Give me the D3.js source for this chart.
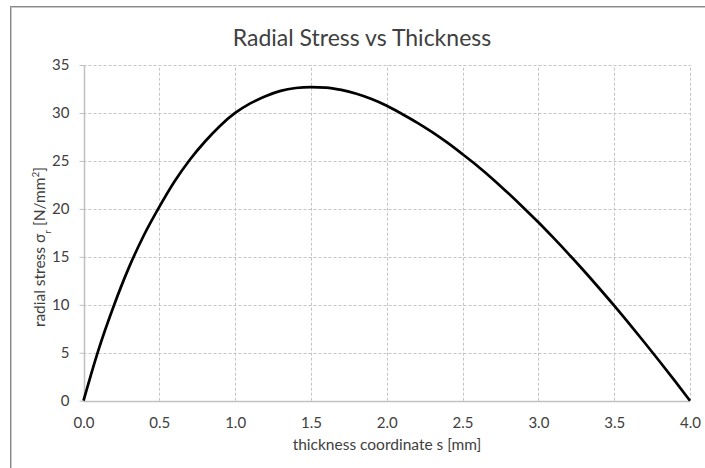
<!DOCTYPE html>
<html><head><meta charset="utf-8">
<script src="https://cdn.jsdelivr.net/npm/d3@7"></script>
<style>body{margin:0;background:#fff}svg{display:block}text{font-family:Lato,"Open Sans",sans-serif;fill:#404040}</style>
</head><body>
<script>
const sValues = [0.0,0.05,0.1,0.2,0.3,0.4,0.5,0.6,0.7,0.8,0.9,1.0,1.1,1.2,1.3,1.4,1.5,1.6,1.7,1.8,1.9,2.0,2.1,2.2,2.3,2.4,2.5,2.6,2.7,2.8,2.9,3.0,3.1,3.2,3.3,3.4,3.5,3.6,3.7,3.8,3.9,4.0];
const stressValues = [0,2.75,5.35,9.9,13.9,17.3,20.2,22.85,25.1,27.0,28.65,30.0,31.0,31.75,32.3,32.6,32.7,32.65,32.4,32.0,31.45,30.75,29.9,29.0,28.0,26.9,25.7,24.45,23.1,21.65,20.15,18.6,16.97,15.29,13.55,11.75,9.91,8.01,6.07,4.09,2.06,0];
const xTicks = [0,0.5,1.0,1.5,2.0,2.5,3.0,3.5,4.0];
const yTicks = [0,5,10,15,20,25,30,35];
const title = "Radial Stress vs Thickness";
const xTitle = "thickness coordinate s [mm]";

const W=705,H=468;
const svg=d3.select("body").append("svg").attr("width",W).attr("height",H);
// outer frame
svg.append("rect").attr("x",10.5).attr("y",6.5).attr("width",720).attr("height",480)
  .attr("fill","none").attr("stroke","#8a8a8a").attr("stroke-width",1);
svg.append("rect").attr("x",11.5).attr("y",7.5).attr("width",720).attr("height",480)
  .attr("fill","none").attr("stroke","#c8c8c8").attr("stroke-width",1);

const x=d3.scaleLinear().domain([0,4]).range([83.5,690]);
const y=d3.scaleLinear().domain([0,35]).range([400.7,65]);

// gridlines
const g=svg.append("g");
g.selectAll("line.h").data(yTicks.filter(d=>d>0)).join("line")
  .attr("x1",x(0)).attr("x2",x(4)).attr("y1",d=>Math.round(y(d))+0.5).attr("y2",d=>Math.round(y(d))+0.5)
  .attr("stroke","#c4c4c4").attr("stroke-dasharray","3,2");
g.selectAll("line.v").data(xTicks.filter(d=>d>0)).join("line")
  .attr("y1",y(0)).attr("y2",y(35)).attr("x1",d=>Math.round(x(d))+0.5).attr("x2",d=>Math.round(x(d))+0.5)
  .attr("stroke","#c4c4c4").attr("stroke-dasharray","3,2");

// axes
const yAxis=svg.append("g").attr("transform",`translate(${Math.round(x(0))+0.5},0)`)
  .call(d3.axisLeft(y).tickValues(yTicks).tickSize(5).tickPadding(10).tickFormat(d3.format("d")));
const xAxis=svg.append("g").attr("transform",`translate(0,${Math.round(y(0))+0.5})`)
  .call(d3.axisBottom(x).tickValues(xTicks).tickSize(0).tickPadding(16).tickFormat(d3.format(".1f")));
[yAxis,xAxis].forEach(a=>{
  a.select(".domain").attr("stroke","#c0c0c0").attr("stroke-width",1.5);
  a.selectAll(".tick line").attr("stroke","#c0c0c0");
  a.selectAll(".tick text").style("font-size","15px").style("font-family","Lato,'Open Sans',sans-serif").attr("fill","#404040");
});
yAxis.select(".domain").attr("d",`M0,${y(35)}V${y(0)}`);
xAxis.select(".domain").attr("d",`M${x(0)},0H${x(4)}`);

// line
const line=d3.line().x((d,i)=>x(sValues[i])).y(d=>y(d)).curve(d3.curveMonotoneX);
svg.append("path").datum(stressValues).attr("d",line).attr("fill","none")
  .attr("stroke","#000").attr("stroke-width",2.7).attr("stroke-linejoin","round");

// titles
svg.append("text").attr("x",362).attr("y",46).attr("text-anchor","middle")
  .style("font-size","23px").text(title);
svg.append("text").attr("x",387).attr("y",450).attr("text-anchor","middle")
  .style("font-size","15.5px").text(xTitle);
const yt=svg.append("text").attr("transform","translate(45,247) rotate(-90)").attr("text-anchor","middle")
  .style("font-size","15.5px");
yt.append("tspan").text("radial stress σ");
yt.append("tspan").attr("baseline-shift","sub").style("font-size","10px").text("r");
yt.append("tspan").text(" [N/mm");
yt.append("tspan").attr("baseline-shift","super").style("font-size","10px").text("2");
yt.append("tspan").text("]");
</script>
</body></html>
